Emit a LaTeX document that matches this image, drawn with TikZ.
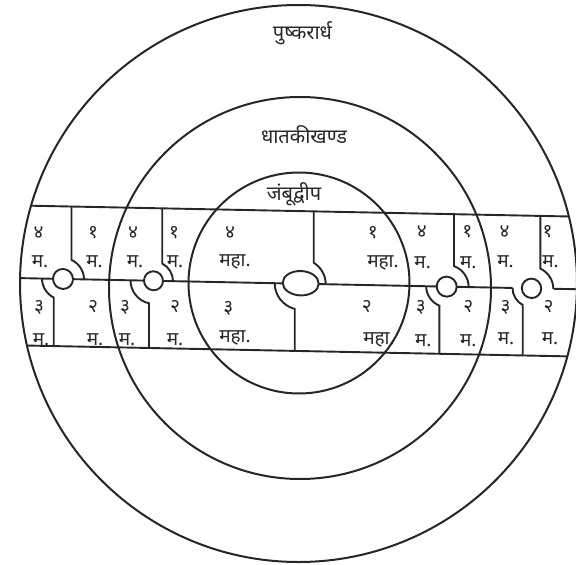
\documentclass[tikz,border=0pt]{standalone}
\usepackage{fontspec}
\newfontfamily\deva[Script=Devanagari]{Noto Sans}
\usetikzlibrary{positioning}

\begin{document}
\begin{tikzpicture}[
    x=1pt, y=-1pt,
    ring/.style={line width=2pt, draw=black!85},
    band/.style={line width=1.9pt, draw=black!85},
    lbl/.style={font=\deva\fontsize{19}{21}\selectfont, text=black!85, inner sep=0pt},
    dvipa/.style={font=\deva\fontsize{20}{22}\selectfont, text=black!85, inner sep=0pt}
]
\useasboundingbox (0,0) rectangle (576,565);
\clip (0,0) rectangle (576,565);

% the three rings
\draw[ring] (298.5,283.5) circle[radius=278.5];
\draw[ring] (300,288) circle[radius=191];
\draw[ring] (299,283) circle[radius=110.5];

\node[dvipa] (pushkar) at (302.5,33) {पुष्करार्ध};
\node[dvipa] (dhataki) at (304,135) {धातकीखण्ड};
\node[dvipa] (jambu) at (294,194) {जंबूद्वीप};

% the band of the mountains, a little tilted
\begin{scope}
\clip (298.5,283.5) circle[radius=278.5];
\begin{scope}[yslant=-0.02]
\draw[band] (0,205.1) -- (600,205.1);
\draw[band] (0,345) -- (600,345);
\draw[band] (0,277.7) -- (512.5,277.7);
\draw[band] (553.3,277.7) -- (600,277.7);

% first mountain
\draw[band] (71.5,205.1) -- (71.5,258.5) arc[start angle=-66.1, end angle=0, radius=21];
\draw[band] (53.7,345) -- (53.7,296.5) arc[start angle=116.3, end angle=180, radius=21];
\draw[band, fill=white] (63,277.7) circle[radius=10];

% second mountain
\draw[band] (162.2,205.1) -- (162.2,260.3) arc[start angle=-63.5, end angle=0, radius=19.5];
\draw[band] (149,345) -- (149,300.3) arc[start angle=101.3, end angle=180, radius=23];
\draw[band, fill=white] (153.5,277.7) circle[radius=9.5];

% meru of jambudvipa
\draw[band] (313.7,205.1) -- (313.7,256.4) arc[start angle=-58.7, end angle=0, radius=25];
\draw[band] (294.7,345) -- (294.7,303) arc[start angle=103.3, end angle=180, radius=26];
\draw[band, fill=white] (300.7,277.2) ellipse[x radius=18, y radius=12.2];

% third mountain
\draw[band] (454,205.1) -- (454,257) arc[start angle=-70.6, end angle=0, radius=22];
\draw[band] (439.3,345) -- (439.3,296.8) arc[start angle=111.2, end angle=180, radius=20.5];
\draw[band, fill=white] (446.7,277.7) circle[radius=10];

% fourth mountain
\draw[band] (540.3,205.1) -- (540.3,257.8) arc[start angle=-66.2, end angle=0, radius=21.8];
\draw[band] (522.7,345) -- (522.7,294.5) arc[start angle=117.6, end angle=180, radius=19];
\draw[band, fill=white] (531.5,277.7) circle[radius=9.7];
\end{scope}
\end{scope}

% labels, left half of pushkarardha
\node[lbl] (a4) at (38.5,232.5) {४};
\node[lbl] (a4m) at (40,262) {म.};
\node[lbl] (a1) at (93,232.5) {१};
\node[lbl] (a1m) at (94.5,262) {म.};
\node[lbl] (a3) at (39,307) {३};
\node[lbl] (a3m) at (41,339.5) {म.};
\node[lbl] (a2) at (93,307) {२};
\node[lbl] (a2m) at (95,339.5) {म.};

% left half of dhatakikhanda
\node[lbl] (b4) at (133,232.5) {४};
\node[lbl] (b4m) at (135,262) {म.};
\node[lbl] (b1) at (174,232.5) {१};
\node[lbl] (b1m) at (175,262) {म.};
\node[lbl] (b3) at (125,307) {३};
\node[lbl] (b3m) at (127,339.5) {म.};
\node[lbl] (b2) at (175,307) {२};
\node[lbl] (b2m) at (175,339.5) {म.};

% jambudvipa
\node[lbl] (c4) at (230,233) {४};
\node[lbl] (c4m) at (235,262) {महा.};
\node[lbl] (c1) at (372.7,233) {१};
\node[lbl] (c1m) at (383,263) {महा.};
\node[lbl] (c3) at (228.3,308) {३};
\node[lbl] (c3m) at (235,338) {महा.};
\node[lbl] (c2) at (366.7,307) {२};
\node[lbl] (c2m) at (379,340) {महा.};

% right half of dhatakikhanda
\node[lbl] (d4) at (421.7,232) {४};
\node[lbl] (d4m) at (422.7,263) {म.};
\node[lbl] (d1) at (467.3,232) {१};
\node[lbl] (d1m) at (468.3,263) {म.};
\node[lbl] (d3) at (420.7,307) {३};
\node[lbl] (d3m) at (423.3,340.5) {म.};
\node[lbl] (d2) at (468.3,307) {२};
\node[lbl] (d2m) at (468.3,340.5) {म.};

% right half of pushkarardha
\node[lbl] (e4) at (504.5,232) {४};
\node[lbl] (e4m) at (505.5,262) {म.};
\node[lbl] (e1) at (547.5,232) {१};
\node[lbl] (e1m) at (550.5,262) {म.};
\node[lbl] (e3) at (505.5,307) {३};
\node[lbl] (e3m) at (506,339) {म.};
\node[lbl] (e2) at (548.5,307) {२};
\node[lbl] (e2m) at (550,339) {म.};
\end{tikzpicture}
\end{document}
